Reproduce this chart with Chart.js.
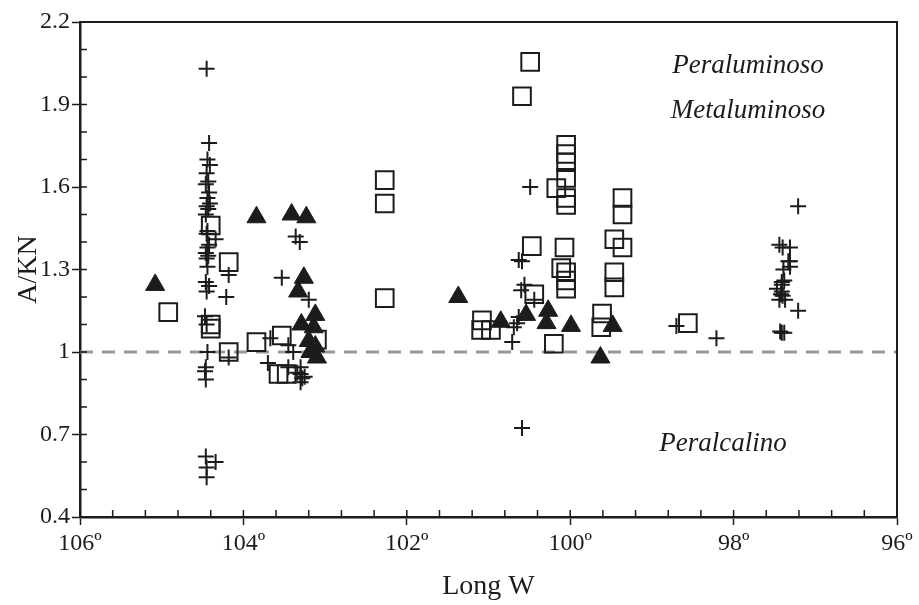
<!DOCTYPE html>
<html>
<head>
<meta charset="utf-8">
<script src="https://cdn.jsdelivr.net/npm/chart.js@4.4.1/dist/chart.umd.min.js"></script>
<style>
  html, body { margin: 0; padding: 0; background: #fff; }
  #wrap { width: 919px; height: 605px; }
</style>
</head>
<body>
<div id="wrap"><canvas id="chart" width="919" height="605"></canvas></div>
<script>
// axis ticks
const xTicks = [106, 104, 102, 100, 98, 96];
const yTicks = [0.4, 0.7, 1, 1.3, 1.6, 1.9, 2.2];

// crosses (+)
const crossLon = [
  104.45, 104.42, 104.44, 104.41, 104.45, 104.43, 104.46, 104.42, 104.44, 104.41,
  104.45, 104.43, 104.46, 104.44, 104.34, 104.45, 104.42, 104.44, 104.46, 104.43,
  104.45, 104.18, 104.44, 104.46, 104.42, 104.21, 104.45, 104.47, 104.45, 104.44,
  104.46, 104.47, 104.46, 104.34, 104.46, 104.45, 104.45, 104.18,
  103.70, 103.53, 103.67, 103.36, 103.31, 103.20, 103.45, 103.30, 103.30, 103.28,
  103.30, 103.34, 103.25, 103.39, 103.45,
  100.63, 100.59, 100.56, 100.60, 100.44, 100.49, 100.63, 100.65, 100.69, 100.71,
  100.59, 98.70, 98.21,
  97.44, 97.40, 97.31, 97.31, 97.31, 97.33, 97.39, 97.41, 97.47, 97.41,
  97.38, 97.41, 97.40, 97.44, 97.37, 97.42, 97.21, 97.41, 97.38, 97.43, 97.21
];
const crossVal = [
  2.03, 1.76, 1.70, 1.68, 1.65, 1.62, 1.61, 1.58, 1.56, 1.54,
  1.53, 1.52, 1.50, 1.44, 1.41, 1.43, 1.39, 1.38, 1.36, 1.35,
  1.34, 1.28, 1.31, 1.255, 1.24, 1.20, 1.22, 1.13, 1.10, 1.00,
  0.945, 0.93, 0.90, 0.60, 0.62, 0.58, 0.545, 0.98,
  0.96, 1.27, 1.05, 1.42, 1.40, 1.19, 0.945, 0.945, 0.92, 0.905,
  0.89, 0.925, 0.91, 1.00, 1.025,
  1.335, 1.33, 1.245, 1.225, 1.19, 1.60, 1.127, 1.105, 1.09, 1.036,
  0.724, 1.095, 1.05,
  1.39, 1.38, 1.38, 1.33, 1.31, 1.33, 1.30, 1.255, 1.23, 1.245,
  1.26, 1.22, 1.205, 1.19, 1.19, 1.21, 1.15, 1.07, 1.07, 1.075, 1.53
];

// open squares
const squareLon = [
  104.92, 104.40, 104.18, 104.40, 104.40, 104.18, 103.84, 103.53, 103.57, 103.47,
  103.10, 102.27, 102.27, 102.27, 101.08, 101.09, 100.97, 100.49, 100.59, 100.05,
  100.05, 100.05, 100.05, 100.05, 100.05, 100.17, 100.47, 100.07, 100.11, 100.05,
  100.05, 100.05, 100.44, 100.20, 99.36, 99.36, 99.46, 99.36, 99.46, 99.46,
  99.61, 99.62, 98.56
];
const squareVal = [
  1.145, 1.46, 1.327, 1.10, 1.085, 1.00, 1.036, 1.06, 0.92, 0.92,
  1.045, 1.625, 1.54, 1.196, 1.115, 1.08, 1.08, 2.055, 1.93, 1.753,
  1.72, 1.69, 1.633, 1.535, 1.56, 1.596, 1.385, 1.38, 1.305, 1.29,
  1.26, 1.23, 1.21, 1.03, 1.56, 1.50, 1.41, 1.38, 1.29, 1.235,
  1.14, 1.09, 1.105
];

// filled triangles
const triLon = [
  105.08, 103.84, 103.41, 103.23, 103.26, 103.33, 103.12, 103.29, 103.14, 103.20,
  103.12, 103.18, 103.10, 101.37, 100.85, 100.54, 100.27, 100.29, 99.99, 99.48, 99.63
];
const triVal = [
  1.244, 1.49, 1.50, 1.49, 1.27, 1.22, 1.135, 1.10, 1.09, 1.04,
  1.02, 1.00, 0.98, 1.20, 1.11, 1.135, 1.15, 1.105, 1.095, 1.095, 0.98
];

// A/KN = 1 reference line
const refLon = [106, 96];
const refVal = [1, 1];

const zip = (xs, ys) => xs.map((x, i) => ({ x: x, y: ys[i] }));
const ink = '#1c1c1c';
const serif = '"Liberation Serif", "DejaVu Serif", serif';

// frame, minor ticks and region labels
const decorations = {
  id: 'decorations',
  afterDatasetsDraw(chart) {
    const { ctx, chartArea: a, scales } = chart;
    ctx.save();
    ctx.strokeStyle = ink;
    ctx.lineWidth = 2;
    ctx.beginPath();
    ctx.moveTo(a.left, a.top);
    ctx.lineTo(a.right, a.top);
    ctx.lineTo(a.right, a.bottom);
    ctx.stroke();

    ctx.lineWidth = 1.5;
    ctx.beginPath();
    for (let v = 96; v <= 106.001; v += 0.4) {
      const px = scales.x.getPixelForValue(v);
      ctx.moveTo(px, a.bottom);
      ctx.lineTo(px, a.bottom - 7);
    }
    for (let v = 0.4; v <= 2.2001; v += 0.1) {
      const py = scales.y.getPixelForValue(v);
      ctx.moveTo(a.left, py);
      ctx.lineTo(a.left + 7, py);
    }
    ctx.stroke();

    ctx.fillStyle = ink;
    ctx.font = 'italic 27px ' + serif;
    ctx.textAlign = 'center';
    ctx.textBaseline = 'middle';
    ctx.fillText('Peraluminoso', a.right - 149, a.top + 44);
    ctx.fillText('Metaluminoso', a.right - 149, a.top + 89);
    ctx.fillText('Peralcalino', a.right - 174, a.top + 422);
    ctx.restore();
  }
};

new Chart(document.getElementById('chart'), {
  type: 'scatter',
  data: {
    datasets: [
      {
        label: 'triangles',
        data: zip(triLon, triVal),
        pointStyle: 'triangle',
        pointRadius: 11,
        backgroundColor: ink,
        borderColor: ink,
        borderWidth: 1,
        order: 1
      },
      {
        label: 'squares',
        data: zip(squareLon, squareVal),
        pointStyle: 'rect',
        pointRadius: 12.5,
        backgroundColor: 'rgba(0,0,0,0)',
        borderColor: ink,
        borderWidth: 2,
        order: 2
      },
      {
        label: 'crosses',
        data: zip(crossLon, crossVal),
        pointStyle: 'cross',
        pointRadius: 8,
        borderColor: ink,
        borderWidth: 2,
        order: 3
      },
      {
        type: 'line',
        label: 'ref',
        data: zip(refLon, refVal),
        borderColor: '#999999',
        borderWidth: 3,
        borderDash: [13, 9],
        pointRadius: 0,
        order: 10
      }
    ]
  },
  options: {
    responsive: false,
    animation: false,
    layout: { padding: { top: 22, right: 22, left: 0, bottom: 0 } },
    plugins: { legend: { display: false }, tooltip: { enabled: false } },
    scales: {
      x: {
        type: 'linear',
        reverse: true,
        min: 96,
        max: 106,
        afterFit: s => { s.height = 88; },
        afterBuildTicks: s => { s.ticks = xTicks.map(v => ({ value: v })); },
        ticks: {
          color: ink,
          font: { family: serif, size: 24 },
          padding: 4,
          maxRotation: 0,
          callback: v => v + 'º'
        },
        grid: { drawOnChartArea: false, tickLength: 8, tickColor: ink, tickWidth: 1.5 },
        border: { color: ink, width: 2.5 },
        title: {
          display: true,
          text: 'Long W',
          color: ink,
          font: { family: serif, size: 28 },
          padding: { top: 0, bottom: 2 }
        }
      },
      y: {
        min: 0.4,
        max: 2.2,
        afterFit: s => { s.width = 80; },
        afterBuildTicks: s => { s.ticks = yTicks.map(v => ({ value: v })); },
        ticks: {
          color: ink,
          font: { family: serif, size: 24 },
          padding: 2,
          callback: v => String(+v.toFixed(1))
        },
        grid: { drawOnChartArea: false, tickLength: 8, tickColor: ink, tickWidth: 1.5 },
        border: { color: ink, width: 2.5 },
        title: {
          display: true,
          text: 'A/KN',
          color: ink,
          font: { family: serif, size: 28 },
          padding: { top: 12, bottom: 0 }
        }
      }
    }
  },
  plugins: [decorations]
});
</script>
</body>
</html>
